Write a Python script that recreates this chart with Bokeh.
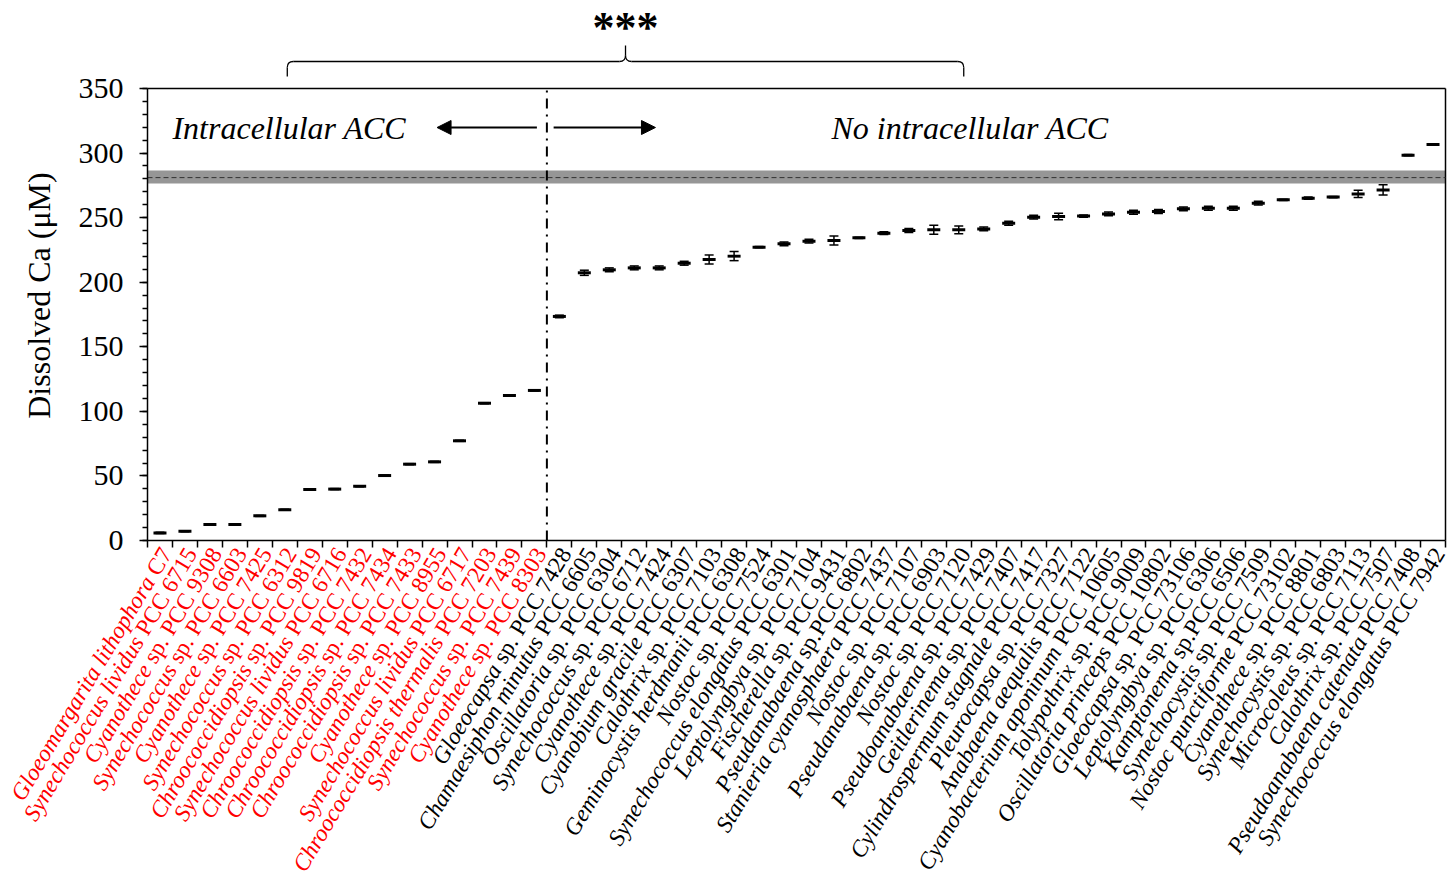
import math
import numpy as np
from bokeh.plotting import figure
from bokeh.models import (Range1d, FixedTicker, LinearAxis, BoxAnnotation, Arrow,
                          NormalHead, Label, ColumnDataSource)
from bokeh.core.properties import value, field
from bokeh.embed import file_html
from bokeh.resources import INLINE

# ---------------- data ----------------
names = [
    "Gloeomargarita lithophora C7",
    "Synechococcus lividus PCC 6715",
    "Cyanothece sp. PCC 9308",
    "Synechococcus sp. PCC 6603",
    "Cyanothece sp. PCC 7425",
    "Synechococcus sp. PCC 6312",
    "Chroococcidiopsis sp. PCC 9819",
    "Synechococcus lividus PCC 6716",
    "Chroococcidiopsis sp. PCC 7432",
    "Chroococcidiopsis sp. PCC 7434",
    "Chroococcidiopsis sp. PCC 7433",
    "Cyanothece sp. PCC 8955",
    "Synechococcus lividus PCC 6717",
    "Chroococcidiopsis thermalis PCC 7203",
    "Synechococcus sp. PCC 7439",
    "Cyanothece sp. PCC 8303",
    "Gloeocapsa sp. PCC 7428",
    "Chamaesiphon minutus PCC 6605",
    "Oscillatoria sp. PCC 6304",
    "Synechococcus sp. PCC 6712",
    "Cyanothece sp. PCC 7424",
    "Cyanobium gracile PCC 6307",
    "Calothrix sp. PCC 7103",
    "Geminocystis herdmanii PCC 6308",
    "Nostoc sp. PCC 7524",
    "Synechococcus elongatus PCC 6301",
    "Leptolyngbya sp. PCC 7104",
    "Fischerella sp. PCC 9431",
    "Pseudanabaena sp.PCC 6802",
    "Stanieria cyanosphaera PCC 7437",
    "Nostoc sp. PCC 7107",
    "Pseudanabaena sp. PCC 6903",
    "Nostoc sp. PCC 7120",
    "Pseudoanabaena sp. PCC 7429",
    "Geitlerinema sp. PCC 7407",
    "Cylindrospermum stagnale PCC 7417",
    "Pleurocapsa sp. PCC 7327",
    "Anabaena aequalis PCC 7122",
    "Cyanobacterium aponinum PCC 10605",
    "Tolypothrix sp. PCC 9009",
    "Oscillatoria princeps PCC 10802",
    "Gloeocapsa sp. PCC 73106",
    "Leptolyngbya sp. PCC 6306",
    "Kamptonema sp.PCC 6506",
    "Synechocystis sp. PCC 7509",
    "Nostoc punctiforme PCC 73102",
    "Cyanothece sp. PCC 8801",
    "Synechocystis sp. PCC 6803",
    "Microcoleus sp. PCC 7113",
    "Calothrix sp. PCC 7507",
    "Pseudoanabaena catenata PCC 7408",
    "Synechococcus elongatus PCC 7942",
]

ca_values = [
    5.9, 7.2, 12.4, 12.4, 19.1, 23.8, 39.5, 39.8, 42.0, 50.3, 59.1, 60.9,
    77.2, 106.3, 112.3, 116.2,
    173.5, 207.3, 209.6, 211.1, 211.1, 214.7, 217.6, 220.2, 227.1, 229.7,
    231.8, 232.3, 234.4, 238.0, 240.0, 240.6, 240.6, 241.3, 245.7, 250.4,
    250.9, 251.2, 252.9, 254.2, 254.8, 256.8, 257.3, 257.3, 261.2, 263.8,
    265.1, 265.9, 268.4, 271.5, 298.4, 306.6,
]

ca_errors = [
    0.4, 0.4, 0.4, 0.4, 0.4, 0.4, 0.4, 0.4, 0.4, 0.4, 0.4, 0.4,
    0.4, 0.4, 0.4, 0.4,
    1.0, 2.0, 1.5, 1.5, 1.5, 1.5, 3.5, 3.5, 0.5, 1.5,
    1.5, 3.5, 0.5, 1.0, 1.5, 3.5, 3.0, 1.5, 1.5, 1.5,
    2.5, 0.8, 1.5, 1.5, 1.5, 1.5, 1.5, 1.5, 1.5, 0.5,
    0.8, 0.5, 2.8, 3.9, 0.5, 0.5,
]

n_intracellular = 16          # first 16 strains form intracellular ACC
y_ticks = [0, 50, 100, 150, 200, 250, 300, 350]
y_title = "Dissolved Ca (μM)"
medium_ca_mean = 281.0        # initial dissolved Ca of the medium
medium_ca_low, medium_ca_high = 276.4, 286.5

# ---------------- geometry ----------------
N = len(names)
YMAX = 350
W, H = 1454, 879              # canvas
X0, Y0 = 147, 540             # screen position of the data origin
PW, PH = 1298, 452            # size of the data box
SERIF = "Liberation Serif"

px_x = PW / N
px_y = PH / YMAX


def sx(dpx):                  # screen px -> x data units
    return dpx / px_x


def sy(dpx):                  # screen px -> y data units
    return dpx / px_y


xc = np.arange(N) + 0.5
v = np.array(ca_values)
e = np.array(ca_errors)

p = figure(width=W, height=H, frame_width=W, frame_height=H,
           x_range=Range1d(sx(-X0), sx(W - X0)),
           y_range=Range1d(sy(Y0 - H), sy(Y0)),
           x_axis_type=None, y_axis_type=None,
           output_backend="svg", toolbar_location=None,
           min_border=0)
p.grid.visible = False
p.outline_line_color = None
p.background_fill_color = "white"
p.border_fill_color = "white"

# y axis (drawn at x = 0, spanning 0..350)
ya = LinearAxis(fixed_location=0, bounds=(0, YMAX),
                ticker=FixedTicker(ticks=y_ticks,
                                   minor_ticks=list(range(0, YMAX + 1, 10))))
ya.axis_line_width = 1.5
ya.major_tick_line_width = 1.5
ya.minor_tick_line_width = 1.5
ya.major_tick_out = 8
ya.major_tick_in = 0
ya.minor_tick_out = 5
ya.minor_tick_in = 0
ya.major_label_text_font = SERIF
ya.major_label_text_font_size = "30px"
ya.major_label_text_color = "black"
ya.major_label_standoff = 16
p.add_layout(ya, "left")

# y axis title (placed like the original, slightly above the box centre)
p.add_layout(Label(x=sx(38 - X0), y=sy(Y0 - 295), text=y_title, angle=math.pi / 2,
                   text_font=SERIF, text_font_size="32px", text_align="center",
                   text_baseline="middle", text_color="black"))

# x axis: category boundary ticks only
xa = LinearAxis(fixed_location=0, bounds=(0, N),
                ticker=FixedTicker(ticks=list(range(N + 1)), minor_ticks=[]))
xa.major_label_overrides = {i: "" for i in range(N + 1)}
xa.major_label_standoff = 0
xa.axis_line_width = 1.5
xa.major_tick_line_width = 1.5
xa.major_tick_out = 7
xa.major_tick_in = 0
p.add_layout(xa, "below")

# top and right edges of the data box
p.segment(x0=[0, N], y0=[YMAX, 0], x1=[N, N], y1=[YMAX, YMAX],
          line_color="black", line_width=1.5)

# medium reference band
p.add_layout(BoxAnnotation(left=0, right=N, bottom=medium_ca_low, top=medium_ca_high,
                           fill_color="#969696", fill_alpha=1.0,
                           line_color=None, level="underlay"))
p.segment(x0=[0], y0=[medium_ca_mean], x1=[N], y1=[medium_ca_mean],
          line_color="#333333", line_width=1, line_dash="5 3")
# separator between the two groups
p.segment(x0=[n_intracellular], y0=[0], x1=[n_intracellular], y1=[YMAX],
          line_color="black", line_width=2, line_dash="10 6 2 6")

# error bars and means
src = ColumnDataSource(dict(x=xc, y=v, lo=v - e, hi=v + e))
p.segment(x0="x", y0="lo", x1="x", y1="hi", source=src,
          line_color="black", line_width=1.5)
p.scatter(x="x", y="lo", source=src, marker="dash", size=9,
          line_color="black", line_width=1.5)
p.scatter(x="x", y="hi", source=src, marker="dash", size=9,
          line_color="black", line_width=1.5)
p.scatter(x="x", y="y", source=src, marker="dash", size=13,
          line_color="black", line_width=3)

# group annotations
y_txt = 319.8
p.add_layout(Arrow(end=NormalHead(size=14, fill_color="black", line_color="black"),
                   x_start=n_intracellular - 0.4, y_start=y_txt,
                   x_end=n_intracellular - 4.4, y_end=y_txt,
                   line_color="black", line_width=2))
p.add_layout(Arrow(end=NormalHead(size=14, fill_color="black", line_color="black"),
                   x_start=n_intracellular + 0.27, y_start=y_txt,
                   x_end=n_intracellular + 4.35, y_end=y_txt,
                   line_color="black", line_width=2))
p.add_layout(Label(x=1.0, y=y_txt, text="Intracellular ACC",
                   text_font=SERIF, text_font_style="italic",
                   text_font_size="32px", text_baseline="middle",
                   text_color="black"))
p.add_layout(Label(x=27.4, y=y_txt, text="No intracellular ACC",
                   text_font=SERIF, text_font_style="italic",
                   text_font_size="32px", text_baseline="middle",
                   text_color="black"))

# ---------------- rotated category labels (italic genus/species + roman code) --------
ROMAN_W = {"s": 389, "p": 500, ".": 250, " ": 250, "P": 556, "C": 667}
for d in "0123456789":
    ROMAN_W[d] = 500
FS = 23.5
theta = math.radians(59)


def split_label(s):
    cut = len(s)
    for key in (" sp.", " PCC", " C7"):
        k = s.find(key)
        if k != -1:
            cut = min(cut, k)
    return s[:cut], s[cut:].strip()


ital_txt, rom_txt = [], []
for s in names:
    a, b = split_label(s)
    ital_txt.append(a)
    rom_txt.append(b)

colors = ["#FF0000" if i < n_intracellular else "#000000" for i in range(N)]
ax_px, ay_px = 6.0, 9.0
xr = xc + sx(ax_px)
yr = np.full(N, -sy(ay_px))
wr = np.array([sum(ROMAN_W.get(c, 500) for c in t) * FS / 1000.0 + 0.25 * FS
               for t in rom_txt])
xi = xr - sx(wr * math.cos(theta))
yi = yr - sy(wr * math.sin(theta))

lab = ColumnDataSource(dict(xr=xr, yr=yr, xi=xi, yi=yi,
                            rt=rom_txt, it=ital_txt, color=colors))
p.text(x="xr", y="yr", text="rt", source=lab, angle=theta,
       text_align="right", text_baseline="middle",
       text_color=field("color"), text_font=value(SERIF),
       text_font_size=value(f"{FS}px"), text_font_style="normal")
p.text(x="xi", y="yi", text="it", source=lab, angle=theta,
       text_align="right", text_baseline="middle",
       text_color=field("color"), text_font=value(SERIF),
       text_font_size=value(f"{FS}px"), text_font_style="italic")

# ---------------- significance brace above the plot ----------------
xl, xm, xrr = 5.6, 19.15, 32.7
yb, ye, yp = sy(Y0 - 61), sy(Y0 - 76), sy(Y0 - 45)
rx, ry = sx(6), sy(6)
lw = 1.3
p.segment(x0=[xl, xl + rx, xm, xm + rx, xrr],
          y0=[ye, yb, yb + ry, yb, ye],
          x1=[xl, xm - rx, xm, xrr - rx, xrr],
          y1=[yb - ry, yb, yp, yb, yb - ry],
          line_color="black", line_width=lw)
p.quadratic(x0=[xl, xm - rx, xm + rx, xrr - rx],
            y0=[yb - ry, yb, yb, yb],
            x1=[xl + rx, xm, xm, xrr],
            y1=[yb, yb + ry, yb + ry, yb - ry],
            cx=[xl, xm, xm, xrr], cy=[yb, yb, yb, yb],
            line_color="black", line_width=lw)
p.add_layout(Label(x=xm, y=sy(Y0 - 27), text="***", text_font=SERIF,
                   text_font_style="bold", text_font_size="44px",
                   text_align="center", text_baseline="middle",
                   text_color="black"))

open("out.html", "w").write(file_html(p, INLINE))
